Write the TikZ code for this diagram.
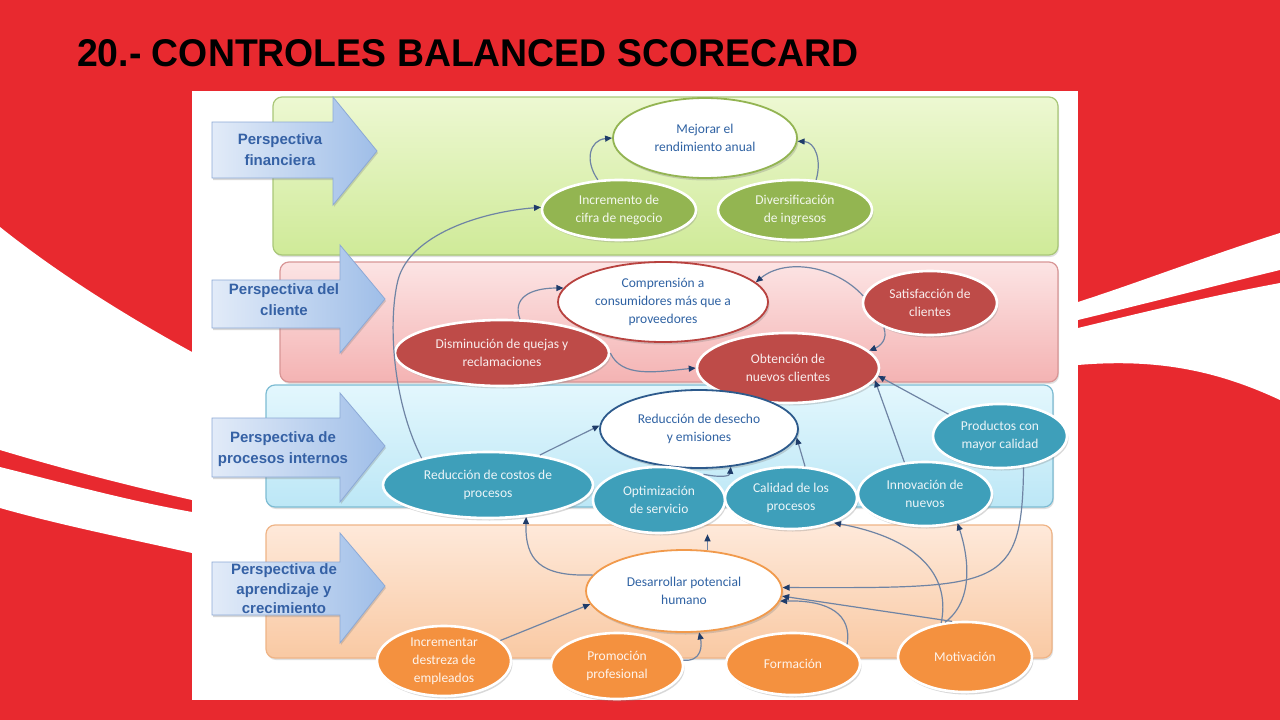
\documentclass[tikz,border=0pt]{standalone}
\usepackage{graphicx}
\usepackage{fontspec}
\setmainfont{Carlito}
\newfontfamily\labfont{Liberation Sans}
\usetikzlibrary{shapes.geometric,arrows.meta,shadows}
\definecolor{redbg}{HTML}{E8292F}
\definecolor{gtop}{HTML}{EDF8D2}
\definecolor{gbot}{HTML}{CFEA98}
\definecolor{gline}{HTML}{A9C778}
\definecolor{ptop}{HTML}{FCE4E4}
\definecolor{pbot}{HTML}{F4B3B3}
\definecolor{pline}{HTML}{D89696}
\definecolor{btop}{HTML}{E3F7FD}
\definecolor{bbot}{HTML}{BCE7F6}
\definecolor{bline}{HTML}{7DBCD3}
\definecolor{otop}{HTML}{FEE9DA}
\definecolor{obot}{HTML}{F9C9A3}
\definecolor{oline}{HTML}{EFB486}
\definecolor{arrL}{HTML}{E2EBF8}
\definecolor{arrR}{HTML}{9FBEE8}
\definecolor{arrB}{HTML}{8CA9D6}
\definecolor{txtblue}{HTML}{2F62A3}
\definecolor{labblue}{HTML}{3561A5}
\definecolor{gfill}{HTML}{93B551}
\definecolor{rfill}{HTML}{BE4B48}
\definecolor{bfill}{HTML}{3E9FBA}
\definecolor{ofill}{HTML}{F4913F}
\definecolor{gring}{HTML}{93B452}
\definecolor{rring}{HTML}{B8423F}
\definecolor{bring}{HTML}{2D5A8C}
\definecolor{oring}{HTML}{F19A4C}
\definecolor{linec}{HTML}{6F84A4}
\definecolor{tipc}{HTML}{1F3C6A}
\begin{document}
\begin{tikzpicture}[x=1pt,y=-1pt,
  ellbase/.style={ellipse, inner sep=0pt, align=center, font=\fontsize{13.5}{18}\selectfont,
     drop shadow={shadow xshift=1.5pt, shadow yshift=-2.5pt, opacity=0.3}},
  fullell/.style={ellbase, fill=#1, draw=white, line width=2.6pt, text=white!90!#1},
  whiteell/.style={ellbase, fill=white, draw=#1, line width=1.8pt, text=txtblue},
  conn/.style={draw=linec, line width=1.2pt, -{Triangle[length=7pt,width=6pt,color=tipc]}},
  band/.style n args={3}{rounded corners=9pt, draw=#3, line width=1.2pt, top color=#1, bottom color=#2,
     drop shadow={shadow xshift=1pt, shadow yshift=-2pt, opacity=0.25}},
  persp/.style={left color=arrL, right color=arrR, draw=arrB, line width=0.8pt,
     drop shadow={shadow xshift=1pt, shadow yshift=-2pt, opacity=0.3}},
  plabel/.style={align=center, text=labblue, font=\labfont\bfseries\fontsize{15}{21}\selectfont, inner sep=0pt}
]
\useasboundingbox (0,0) rectangle (1280,720);
% background
\fill[redbg] (0,0) rectangle (1280,720);
\fill[white] (0,227) .. controls (60,275) and (130,318) .. (192,352) -- (192,500)
  .. controls (125,485) and (60,468) .. (0,450) -- cycle;
\fill[white] (0,467) .. controls (60,482) and (125,500) .. (192,512) -- (192,553)
  .. controls (125,538) and (60,525) .. (0,508) -- cycle;
\fill[white] (1078,302) .. controls (1140,282) and (1210,255) .. (1280,233) -- (1280,270)
  .. controls (1210,287) and (1140,305) .. (1078,320) -- cycle;
\fill[white] (1078,328) .. controls (1140,313) and (1210,296) .. (1280,283) -- (1280,400)
  .. controls (1220,372) and (1160,358) .. (1078,365) -- cycle;
% panel
\fill[white] (192,91) rectangle (1078,700);
% title
\node[anchor=south west, inner sep=0pt] (title) at (77,67)
  {\resizebox{781pt}{27pt}{\labfont\bfseries 20.- CONTROLES BALANCED SCORECARD}};
% bands
\path[band={gtop}{gbot}{gline}] (273,97) rectangle (1058,255);
\path[band={ptop}{pbot}{pline}] (280,262) rectangle (1058,382);
\path[band={btop}{bbot}{bline}] (266,385) rectangle (1053,507);
\path[band={otop}{obot}{oline}] (266,525) rectangle (1052,658);
% perspective arrows
\path[persp] (212,122) -- (333,122) -- (333,97) -- (377,151) -- (333,205) -- (333,178) -- (212,178) -- cycle;
\path[persp] (212,280) -- (340,280) -- (340,245) -- (385,299) -- (340,353) -- (340,328) -- (212,328) -- cycle;
\path[persp] (212,418) -- (340,418) -- (340,393) -- (385,446) -- (340,502) -- (340,477) -- (212,477) -- cycle;
\path[persp] (212,562) -- (340,562) -- (340,533) -- (385,586) -- (340,643) -- (340,615) -- (212,615) -- cycle;
\node[plabel] (L1) at (280,150) {Perspectiva\\financiera};
\node[plabel] (L2) at (284,300) {Perspectiva del\\cliente};
\node[plabel] (L3) at (283,449) {Perspectiva de\\procesos internos};
\node[plabel, font=\labfont\bfseries\fontsize{15}{19.5}\selectfont] (L4) at (284,589) {Perspectiva de\\aprendizaje y\\crecimiento};
% financial
\node[whiteell=gring, minimum width=184pt, minimum height=80pt] (G1) at (705,138) {Mejorar el\\rendimiento anual};
\node[fullell=gfill, minimum width=154pt, minimum height=60pt] (G2) at (619,210) {Incremento de\\cifra de negocio};
\node[fullell=gfill, minimum width=154pt, minimum height=60pt] (G3) at (795,210) {Diversificación\\de ingresos};
% client
\node[whiteell=rring, minimum width=210pt, minimum height=80pt] (P1) at (663,302) {Comprensión a\\consumidores más que a\\proveedores};
\node[fullell=rfill, minimum width=134pt, minimum height=64pt] (P2) at (930,303) {Satisfacción de\\clientes};
\node[fullell=rfill, minimum width=214pt, minimum height=66pt] (P3) at (502,353) {Disminución de quejas y\\reclamaciones};
\node[fullell=rfill, minimum width=182pt, minimum height=70pt] (P4) at (788,368) {Obtención de\\nuevos clientes};
% internal
\node[whiteell=bring, minimum width=198pt, minimum height=78pt] (B1) at (699,429) {Reducción de desecho\\y emisiones};
\node[fullell=bfill, minimum width=134pt, minimum height=64pt] (B2) at (1000,436) {Productos con\\mayor calidad};
\node[fullell=bfill, minimum width=210pt, minimum height=66pt] (B3) at (488,485) {Reducción de costos de\\procesos};
\node[fullell=bfill, minimum width=132pt, minimum height=66pt] (B4) at (659,500) {Optimización\\de servicio};
\node[fullell=bfill, minimum width=132pt, minimum height=62pt] (B5) at (791,498) {Calidad de los\\procesos};
\node[fullell=bfill, minimum width=134pt, minimum height=64pt] (B6) at (925,494) {Innovación de\\nuevos};
% learning
\node[whiteell=oring, minimum width=196pt, minimum height=82pt] (O1) at (684,591) {Desarrollar potencial\\humano};
\node[fullell=ofill, minimum width=134pt, minimum height=70pt] (O2) at (444,661) {Incrementar\\destreza de\\empleados};
\node[fullell=ofill, minimum width=132pt, minimum height=66pt] (O3) at (617,666) {Promoción\\profesional};
\node[fullell=ofill, minimum width=134pt, minimum height=62pt] (O4) at (793,664) {Formación};
\node[fullell=ofill, minimum width=134pt, minimum height=70pt] (O5) at (965,657) {Motivación};
% connectors
\draw[conn] (G2.125) .. controls (584,160) and (590,140) .. (G1.180);
\draw[conn] (G3.55) .. controls (822,160) and (815,142) .. (G1.-2);
\draw[conn] (B3.158) .. controls (392,400) and (388,320) .. (398,280)
  .. controls (410,235) and (480,212) .. (G2.178);
\draw[conn] (P3.62) .. controls (512,298) and (530,288) .. (P1.172);
\draw[conn] (P3.0) .. controls (622,378) and (655,372) .. (P4.180);
\draw[conn] (P2.174) .. controls (835,265) and (785,258) .. (P1.12);
\draw[conn] (P2.-152) .. controls (888,340) and (880,346) .. (P4.12);
\draw[conn] (B6.123) -- (P4.-8);
\draw[conn] (B2.157) -- (P4.-5);
\draw[conn] (B3.30) -- (B1.178);
\draw[conn] (B4.30) .. controls (722,478) and (730,476) .. (B1.-50);
\draw[conn] (B5.66) -- (B1.-5);
\draw[conn] (O1.170) .. controls (540,577) and (525,560) .. (B3.-40);
\draw[conn] (O1.60) -- (O1.60 |- B4.south);
\draw[conn] (O2.20) -- (O1.-172);
\draw[conn] (O3.5) .. controls (702,662) and (702,645) .. (O1.-70);
\draw[conn] (O4.20) .. controls (852,615) and (830,600) .. (O1.-6);
\draw[conn] (O5.110) -- (O1.-3);
\draw[conn] (O5.125) .. controls (950,580) and (925,540) .. (B5.-30);
\draw[conn] (O5.120) .. controls (975,600) and (968,555) .. (B6.-42);
\draw[conn] (B2.-53) .. controls (1022,590) and (1000,588) .. (O1.2);
\end{tikzpicture}
\end{document}
